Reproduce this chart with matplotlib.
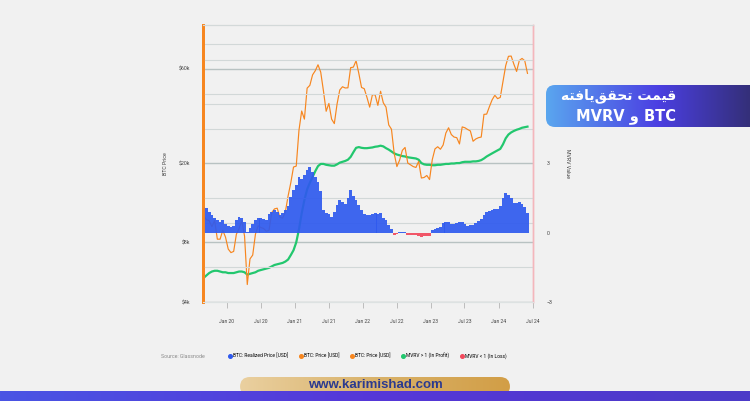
import numpy as np
import pandas as pd
import matplotlib
matplotlib.use("Agg")
import matplotlib.pyplot as plt
from matplotlib.patches import FancyBboxPatch
from matplotlib.lines import Line2D
from matplotlib.colors import LinearSegmentedColormap
from matplotlib.ticker import FixedLocator, FixedFormatter, NullFormatter

plt.rcParams["font.family"] = ["Roboto", "DejaVu Sans"]

# semi-monthly readings, left edge -> right edge of the chart
price = [10900, 10400, 10300, 9600, 10300, 8300, 8300, 9200, 8500, 7400, 7100,
         7200, 8800, 9400, 10300, 8600, 4900, 6600, 6900, 8800, 9700, 9500, 9400,
         9100, 9200, 11300, 11800, 11900, 10700, 10600, 11400, 13700, 16000, 19200, 19400,
         29400, 36800, 33500, 48000, 49600, 56000, 58800, 63000, 57800, 46500, 36700, 40200,
         33500, 31800, 39900, 47000, 48800, 48100, 48200, 60900, 61300, 66000, 57000, 48400,
         47700, 43100, 38500, 44500, 44400, 39300, 46300, 40500, 38500, 31300, 29800, 22500,
         19300, 20800, 23300, 24100, 20100, 19700, 19300, 19100, 20500, 16900, 17000, 17400,
         16600, 20900, 23700, 24300, 23600, 24800, 28500, 30300, 28000, 27200, 27000, 25100,
         30600, 30300, 29700, 29200, 25900, 26600, 27000, 27200, 35400, 35500, 38700, 41900,
         44200, 42500, 43100, 51900, 62400, 69500, 69700, 63400, 58300, 66200, 67800, 66000,
         57000]

realized = [5300, 5450, 5600, 5700, 5750, 5750, 5700, 5650, 5650, 5600, 5600,
            5600, 5650, 5700, 5700, 5650, 5500, 5550, 5600, 5650, 5750, 5800, 5850,
            5900, 5950, 6050, 6150, 6200, 6250, 6300, 6400, 6550, 6900, 7300, 8000,
            9300, 11200, 13100, 14800, 16000, 17100, 18300, 19400, 19900, 19900, 19700, 19600,
            19500, 19500, 19800, 20200, 20400, 20600, 20900, 21600, 22800, 24000, 24200, 24000,
            23900, 23900, 24000, 24100, 24300, 24400, 24600, 24400, 23900, 23500, 23000, 22500,
            22200, 22000, 21800, 21700, 21500, 21400, 21300, 21200, 20900, 20100, 19800, 19700,
            19700, 19600, 19600, 19700, 19700, 19800, 19900, 19900, 20000, 20000, 20100, 20100,
            20300, 20400, 20400, 20400, 20500, 20500, 20600, 20800, 21200, 21700, 22100, 22500,
            22900, 23300, 23700, 25000, 26800, 28000, 28700, 29200, 29600, 29900, 30300, 30500,
            30700]

mvrv_bar = [1.10, 1.09, 0.90, 0.75, 0.65, 0.55, 0.48, 0.57, 0.40, 0.30, 0.26,
            0.30, 0.55, 0.68, 0.65, 0.45, 0.04, 0.20, 0.40, 0.57, 0.65, 0.63, 0.58,
            0.57, 0.80, 0.92, 1.00, 0.90, 0.78, 0.85, 1.00, 1.15, 1.55, 1.85, 2.05,
            2.43, 2.35, 2.50, 2.74, 2.87, 2.65, 2.40, 2.20, 1.80, 1.00, 0.87, 0.80,
            0.70, 0.90, 1.20, 1.43, 1.35, 1.25, 1.50, 1.87, 1.60, 1.40, 1.20, 1.00,
            0.82, 0.75, 0.78, 0.82, 0.87, 0.82, 0.87, 0.65, 0.55, 0.35, 0.15, -0.09,
            -0.05, 0.02, 0.04, 0.02, -0.09, -0.08, -0.10, -0.09, -0.12, -0.17, -0.15, -0.13,
            -0.12, 0.10, 0.17, 0.20, 0.25, 0.43, 0.48, 0.45, 0.40, 0.38, 0.42, 0.48,
            0.45, 0.40, 0.30, 0.33, 0.35, 0.42, 0.52, 0.60, 0.78, 0.91, 0.95, 1.00,
            1.05, 1.05, 1.15, 1.50, 1.74, 1.65, 1.50, 1.30, 1.30, 1.35, 1.25, 1.10,
            0.87]

dates = pd.date_range("2019-08-29", "2024-06-04", periods=len(price))

price_ticks = [4000, 8000, 20000, 60000]
price_labels = ["$4k", "$8k", "$20k", "$60k"]
price_minor = [10000, 30000, 40000, 80000]
mvrv_ticks = [-3, 0, 3]
mvrv_minor = [-1.5, 1.5, 6, 7.5]
x_ticks = pd.to_datetime(["2020-01-01", "2020-07-01", "2021-01-01", "2021-07-01", "2022-01-01",
                          "2022-07-01", "2023-01-01", "2023-07-01", "2024-01-01", "2024-07-01"])
x_labels = ["Jan 20", "Jul 20", "Jan 21", "Jul 21", "Jan 22",
            "Jul 22", "Jan 23", "Jul 23", "Jan 24", "Jul 24"]

legend_labels = ["BTC: Realized Price [USD]", "BTC: Price [USD]", "BTC: Price [USD]",
                 "MVRV > 1 (In Profit)", "MVRV < 1 (In Loss)"]

BG = "#f1f1f1"
BLUE = "#2f5aee"
RED = "#f2495c"
ORANGE = "#f7861f"
GREEN = "#22c76e"
legend_colors = [BLUE, ORANGE, ORANGE, GREEN, RED]

fig = plt.figure(figsize=(7.5, 4.01), dpi=100, facecolor=BG)
W, H = 750, 401


def fig_box(x0, y0, x1, y1):
    # pixel box (top-left origin) -> figure fraction rect
    return [x0 / W, 1 - y1 / H, (x1 - x0) / W, (y1 - y0) / H]


ax = fig.add_axes(fig_box(203, 25, 532.5, 302))
ax.set_facecolor(BG)
ax.plot(dates, price, color=ORANGE, lw=0.85, zorder=3)
ax.plot(dates, realized, color=GREEN, lw=1.6, zorder=2)
ax.set_yscale("log")
ax.set_ylim(4000, 100000)
ax.set_xlim(pd.Timestamp("2019-08-25"), pd.Timestamp("2024-07-01"))
ax.yaxis.set_major_locator(FixedLocator(price_ticks))
ax.yaxis.set_major_formatter(FixedFormatter(price_labels))
ax.yaxis.set_minor_locator(FixedLocator(price_minor))
ax.yaxis.set_minor_formatter(NullFormatter())
ax.grid(axis="y", which="major", color="#b8c2c2", lw=1.0)
ax.grid(axis="y", which="minor", color="#d2d8d8", lw=0.8)
ax.set_axisbelow(True)
ax.set_xticks(x_ticks)
ax.set_xticklabels(x_labels)
ax.tick_params(axis="x", length=4, width=0.6, color="#b5b5b5", labelsize=3.6, pad=8, labelcolor="#444444")
ax.tick_params(axis="y", which="both", length=0, labelsize=3.8, pad=9, labelcolor="#444444")
ax.set_ylabel("BTC Price", fontsize=3.8, color="#444444")
ax.yaxis.set_label_coords(-0.105, 0.5)

ax2 = ax.twinx()
bar_colors = [BLUE if v >= 0 else RED for v in mvrv_bar]
ax2.bar(dates, mvrv_bar, width=14.8, color=bar_colors, alpha=0.92, linewidth=0, zorder=2)
ax2.set_ylim(-3, 9)
ax2.yaxis.set_major_locator(FixedLocator(mvrv_ticks))
ax2.yaxis.set_minor_locator(FixedLocator(mvrv_minor))
ax2.yaxis.set_minor_formatter(NullFormatter())
ax2.grid(axis="y", which="minor", color="#d2d8d8", lw=0.8)
ax2.set_axisbelow(True)
ax2.tick_params(axis="y", which="both", length=0, labelsize=3.8, pad=10, labelcolor="#444444")
ax2.set_ylabel("MVRV Value", fontsize=3.8, color="#444444", rotation=-90)
ax2.yaxis.set_label_coords(1.115, 0.5)

for a in (ax, ax2):
    a.spines["left"].set_color(ORANGE)
    a.spines["left"].set_linewidth(2)
    a.spines["right"].set_color("#f4b6bc")
    a.spines["right"].set_linewidth(1)
    a.spines["top"].set_color("#d3d9d9")
    a.spines["bottom"].set_color("#dde2e2")

fig.text(161 / W, 1 - 356 / H, "Source: Glassnode", fontsize=3.8, color="#8a8a8a", va="center")
handles = [Line2D([], [], ls="none", marker="o", ms=2.6, color=c) for c in legend_colors]
fig.legend(handles, legend_labels, loc="center left", bbox_to_anchor=(229 / W, 1 - 356 / H),
           ncol=5, frameon=False, fontsize=3.5, handlelength=0.6, handletextpad=0.3,
           columnspacing=2.3, borderpad=0, borderaxespad=0)


def gradient_panel(x0, y0, x1, y1, colors, radius):
    pax = fig.add_axes(fig_box(x0, y0, x1, y1))
    pax.set_axis_off()
    w, h = x1 - x0, y1 - y0
    pax.set_xlim(0, w)
    pax.set_ylim(0, h)
    cmap = LinearSegmentedColormap.from_list("g", colors)
    im = pax.imshow(np.linspace(0, 1, 256).reshape(1, -1), cmap=cmap, aspect="auto",
                    extent=[0, w, 0, h])
    if radius:
        shape = FancyBboxPatch((0, 0), w, h, boxstyle=f"round,pad=0,rounding_size={radius}",
                               facecolor="none", edgecolor="none")
        pax.add_patch(shape)
        im.set_clip_path(shape)
    return pax


# title badge
gradient_panel(546, 85, 770, 127, ["#5aa6ef", "#4b3fe2", "#2f2c62"], 9)
fa_line1 = "\ufeea\ufe98\ufed3\ufe8e\ufef3\ufed6\ufed8\ufea4\ufe97 \ufe96\ufee4\ufef4\ufed7"
fig.text(676 / W, 1 - 96 / H, fa_line1, family=["DejaVu Sans"], weight="bold",
         fontsize=10, color="white", ha="right", va="center")
fig.text(676 / W, 1 - 116 / H, "MVRV \ufeed BTC", family=["DejaVu Sans"], weight="bold",
         fontsize=10.5, color="white", ha="right", va="center")

# footer
gradient_panel(240, 377, 510, 396, ["#ead0a0", "#d9b26a", "#d29e46"], 10)
gradient_panel(0, 391, 750, 401, ["#4a55e4", "#5637d8", "#4c3bc8"], 0)
fig.text(375 / W, 1 - 385 / H, "www.karimishad.com", fontsize=9.5, weight="bold",
         color="#2b3a8f", ha="center", va="center", family=["Liberation Sans"])

fig.savefig("out.png", dpi=100, facecolor=BG)
